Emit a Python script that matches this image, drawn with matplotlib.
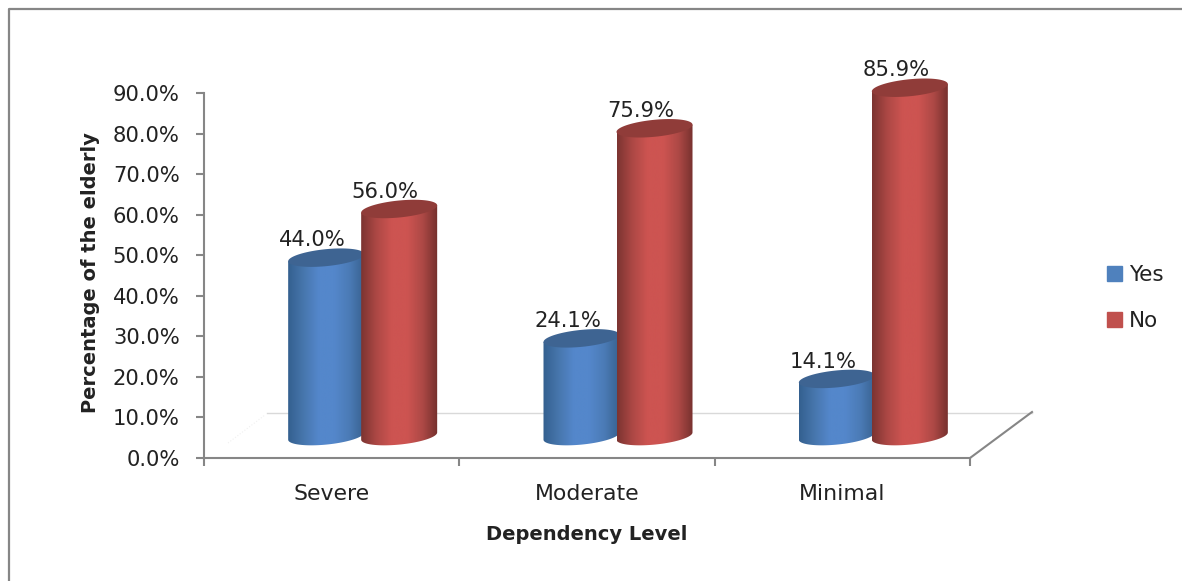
import numpy as np
from matplotlib import pyplot as plt
from matplotlib.colors import LinearSegmentedColormap
from matplotlib.lines import Line2D
from matplotlib.patches import Patch
from matplotlib.path import Path

levels = ["Severe", "Moderate", "Minimal"]
yes_pct = [44.0, 24.1, 14.1]
no_pct = [56.0, 75.9, 85.9]
y_ticks = [0, 10, 20, 30, 40, 50, 60, 70, 80, 90]

W, H = 1182, 581
GRAY = "#868686"
TEXT = "#222222"

# 3D look: the cylinders stand on a floor shifted right and up from the axis
X_PX = 255.33   # px per category
Y_PX = 4.055    # px per percent
FLOOR_PCT = 5.4
RADIUS = 38 / X_PX
TILT = 0.095
CAP_B = 8.5 / Y_PX
YES_OFFSET = -5.5 / X_PX
NO_OFFSET = 67.5 / X_PX

fig = plt.figure(figsize=(W / 100, H / 100), dpi=100)
ax = fig.add_axes([204 / W, 1 - 458 / H, 766 / W, 365 / H])
ax.patch.set_alpha(0)


def ellipse(cx, cy):
    t = np.linspace(0, 2 * np.pi, 90)
    a = RADIUS * np.cos(t)
    b = CAP_B * np.sin(t) + a * TILT * X_PX / Y_PX
    return cx + a, cy + b


def cylinder(cx, value, colors, cap_color):
    top = FLOOR_PCT + value
    # body outline: lower half of the base ellipse, then straight up to the cap
    t = np.linspace(np.pi, 2 * np.pi, 45)
    a = RADIUS * np.cos(t)
    low = CAP_B * np.sin(t) + a * TILT * X_PX / Y_PX
    rise = RADIUS * TILT * X_PX / Y_PX
    xs = np.concatenate([cx + a, [cx + RADIUS, cx - RADIUS]])
    ys = np.concatenate([FLOOR_PCT + low, [top + rise, top - rise]])
    body = Path(np.column_stack([xs, ys]), closed=False)
    cmap = LinearSegmentedColormap.from_list("c", colors)
    im = ax.imshow(np.linspace(0, 1, 200).reshape(1, -1), cmap=cmap, aspect="auto",
                   extent=[cx - RADIUS, cx + RADIUS, 0, top + 5], zorder=3)
    im.set_clip_path(body, ax.transData)
    im.set_clip_box(fig.bbox)
    cap_x, cap_y = ellipse(cx, top)
    ax.fill(cap_x, cap_y, color=cap_color, lw=0, zorder=3, clip_on=False)


blue = ["#34608f", "#4776ad", "#5487cb", "#5487cb", "#4b7bb6", "#38618f"]
red = ["#7c3431", "#ad4845", "#cd5451", "#cd5451", "#ae4946", "#74302d"]

for i, level in enumerate(levels):
    yes_x = i + YES_OFFSET
    no_x = i + NO_OFFSET
    cylinder(yes_x, yes_pct[i], blue, "#3e6492")
    cylinder(no_x, no_pct[i], red, "#903c39")
    for x, v in ((yes_x, yes_pct[i]), (no_x, no_pct[i])):
        ax.annotate(f"{v:.1f}%", (x, FLOOR_PCT + v), xytext=(-10, 12.5),
                    textcoords="offset points", ha="center", va="center",
                    fontsize=15.2, color=TEXT, zorder=4, annotation_clip=False)

ax.set_xlim(-0.5, 2.5)
ax.set_ylim(0, 90)

# floor lines behind the cylinders
fig.add_artist(Line2D([267 / W, 1032 / W], [1 - 413 / H, 1 - 413 / H],
                      color="#d9d9d9", lw=1, zorder=0))
fig.add_artist(Line2D([970 / W, 1032 / W], [1 - 458 / H, 1 - 412 / H],
                      color=GRAY, lw=1.5, zorder=0))
fig.add_artist(Line2D([228 / W, 265 / W], [1 - 443 / H, 1 - 415 / H],
                      color="#f0f0f0", lw=0.8, ls=":", zorder=0))

for s in ("top", "right"):
    ax.spines[s].set_visible(False)
for s in ("left", "bottom"):
    ax.spines[s].set_color(GRAY)
    ax.spines[s].set_linewidth(1.5)

ax.set_yticks(y_ticks, [f"{v:.1f}%" for v in y_ticks])
ax.set_xticks([-0.5, 0.5, 1.5, 2.5])
ax.set_xticklabels([])
ax.tick_params(axis="both", length=5.5, width=1.5, color=GRAY, labelsize=15.2,
               labelcolor=TEXT)
ax.tick_params(axis="y", pad=12)

for i, level in enumerate(levels):
    ax.annotate(level, (i, 0), xytext=(0, -26), textcoords="offset points",
                ha="center", va="center", fontsize=15.8, color=TEXT,
                annotation_clip=False)

fig.text(587 / W, 1 - 534 / H, "Dependency Level", ha="center", va="center",
         fontsize=14, fontweight="bold", color=TEXT)
fig.text(90 / W, 1 - 273 / H, "Percentage of the elderly", rotation=90,
         ha="center", va="center", fontsize=14, fontweight="bold", color=TEXT)

handles = [Patch(color="#4f81bd", label="Yes"), Patch(color="#c0504d", label="No")]
fig.legend(handles=handles, loc="center left", bbox_to_anchor=(1088 / W, 1 - 298 / H),
           frameon=False, fontsize=15.5, handlelength=0.7, handleheight=0.7,
           handletextpad=0.32, labelspacing=1.23, labelcolor=TEXT)

# outer chart border: left and top edges only reach the picture
fig.add_artist(Line2D([9 / W, 9 / W, 1], [0, 1 - 9 / H, 1 - 9 / H], color=GRAY, lw=1.6))

fig.savefig("out.png", dpi=100)
